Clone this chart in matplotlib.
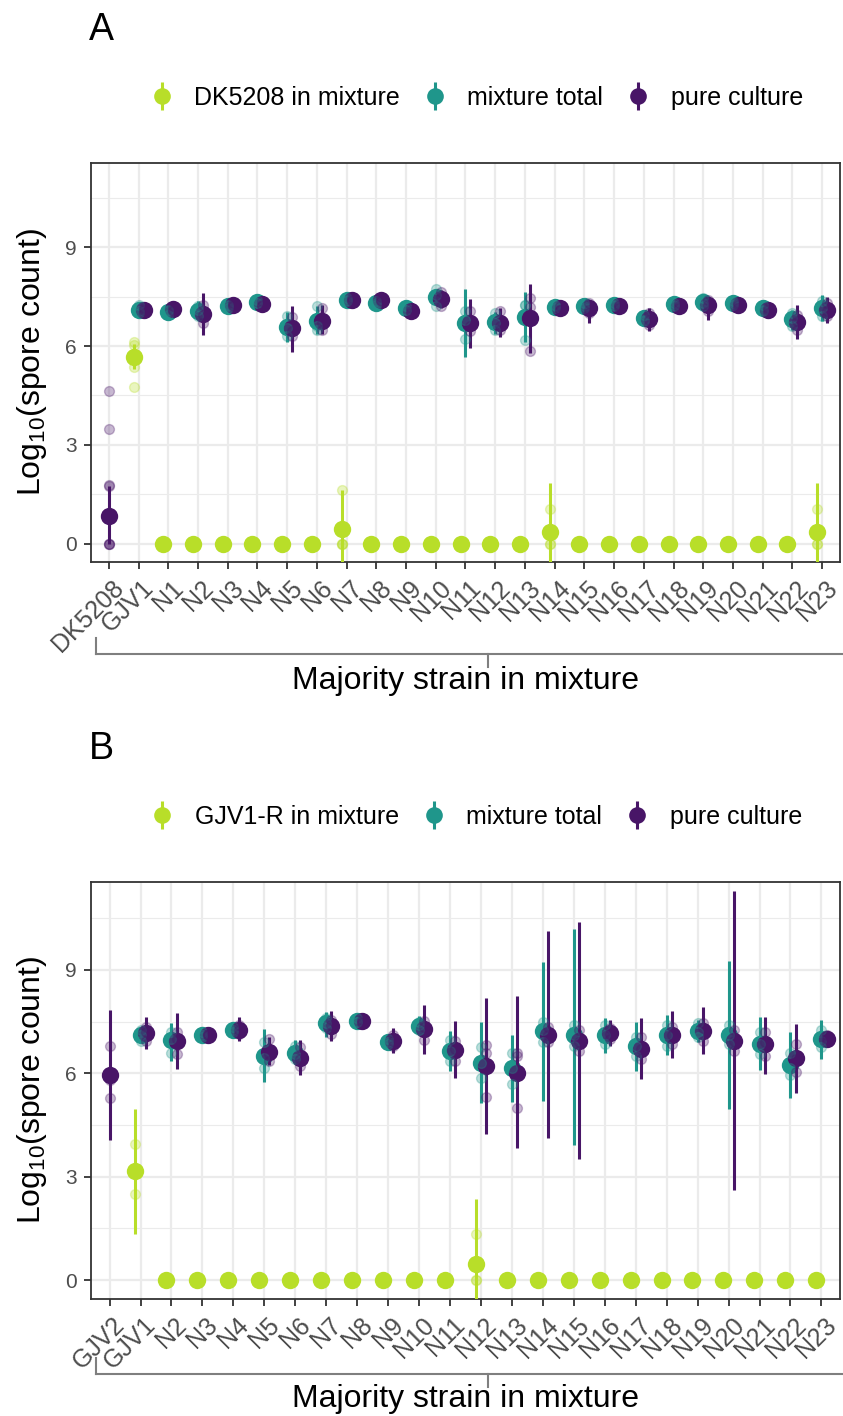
import numpy as np
import matplotlib
matplotlib.use('Agg')
import matplotlib.pyplot as plt
from matplotlib.lines import Line2D
from matplotlib.transforms import ScaledTranslation

nan = np.nan

# ---------------- panel A ----------------
strains_a = ['DK5208', 'GJV1', 'N1', 'N2', 'N3', 'N4', 'N5', 'N6', 'N7', 'N8', 'N9', 'N10', 'N11',
             'N12', 'N13', 'N14', 'N15', 'N16', 'N17', 'N18', 'N19', 'N20', 'N21', 'N22', 'N23']

focal_mean_a = [nan, 5.68, 0, 0, 0, 0, 0, 0, 0.44, 0, 0, 0, 0, 0, 0, 0.37, 0, 0, 0, 0, 0, 0, 0, 0, 0.37]
focal_lo_a = [nan, 5.30, 0, 0, 0, 0, 0, 0, -0.80, 0, 0, 0, 0, 0, 0, -1.10, 0, 0, 0, 0, 0, 0, 0, 0, -1.10]
focal_hi_a = [nan, 6.05, 0, 0, 0, 0, 0, 0, 1.64, 0, 0, 0, 0, 0, 0, 1.86, 0, 0, 0, 0, 0, 0, 0, 0, 1.86]

mix_mean_a = [nan, 7.09, 7.04, 7.06, 7.21, 7.34, 6.59, 6.77, 7.39, 7.31, 7.14, 7.49, 6.69,
              6.74, 6.89, 7.19, 7.21, 7.25, 6.84, 7.26, 7.32, 7.31, 7.14, 6.81, 7.14]
mix_lo_a = [nan, 6.95, 6.90, 6.80, 7.10, 7.20, 6.13, 6.35, 7.30, 7.20, 7.00, 7.30, 5.66,
            6.35, 6.13, 7.05, 7.05, 7.10, 6.70, 7.15, 7.15, 7.20, 7.00, 6.50, 6.75]
mix_hi_a = [nan, 7.25, 7.15, 7.35, 7.30, 7.45, 7.04, 7.22, 7.50, 7.40, 7.25, 7.65, 7.72,
            7.04, 7.65, 7.30, 7.35, 7.35, 7.00, 7.35, 7.50, 7.40, 7.30, 7.10, 7.55]

pure_mean_a = [0.85, 7.09, 7.11, 6.96, 7.25, 7.26, 6.54, 6.77, 7.39, 7.41, 7.07, 7.44, 6.69,
               6.71, 6.84, 7.14, 7.14, 7.21, 6.81, 7.22, 7.23, 7.23, 7.09, 6.74, 7.09]
pure_lo_a = [0.00, 6.95, 6.95, 6.33, 7.15, 7.15, 5.83, 6.35, 7.30, 7.30, 6.95, 7.14, 5.93,
             6.28, 5.80, 7.00, 6.71, 7.10, 6.45, 7.10, 6.80, 7.10, 6.90, 6.20, 6.70]
pure_hi_a = [1.74, 7.20, 7.25, 7.60, 7.35, 7.40, 7.21, 7.23, 7.50, 7.50, 7.20, 7.69, 7.44,
             7.14, 7.87, 7.25, 7.40, 7.30, 7.15, 7.35, 7.50, 7.35, 7.25, 7.24, 7.50]

# replicate values (small transparent dots)
focal_reps_a = [[], [6.13, 6.03, 5.37, 4.77], [0, 0, 0], [0, 0, 0], [0, 0, 0], [0, 0, 0], [0, 0, 0],
                [0, 0, 0], [1.64, 0, 0, 0], [0, 0, 0], [0, 0, 0], [0, 0, 0], [0, 0, 0], [0, 0, 0],
                [0, 0, 0], [1.05, 0, 0], [0, 0, 0], [0, 0, 0], [0, 0, 0], [0, 0, 0], [0, 0, 0],
                [0, 0, 0], [0, 0, 0], [0, 0, 0], [1.05, 0, 0]]
mix_reps_a = [[], [7.25, 7.0, 7.05], [7.1, 6.95, 7.05], [7.2, 6.9, 7.1], [7.25, 7.15, 7.2],
              [7.4, 7.3, 7.3], [6.9, 6.3, 6.55], [7.22, 6.5, 6.6], [7.45, 7.35, 7.4],
              [7.35, 7.25, 7.3], [7.2, 7.1, 7.1], [7.72, 7.2, 7.55], [7.05, 6.2, 6.8],
              [7.0, 6.5, 6.7], [7.24, 6.18, 7.25], [7.25, 7.15, 7.2], [7.3, 7.15, 7.2],
              [7.3, 7.2, 7.25], [6.95, 6.75, 6.8], [7.3, 7.2, 7.25], [7.45, 7.2, 7.3],
              [7.35, 7.25, 7.3], [7.25, 7.05, 7.1], [7.0, 6.6, 6.85], [7.35, 6.9, 7.15]]
pure_reps_a = [[4.65, 3.49, 1.79, 1.74, 0.0, 0.0, 0.0], [7.15, 7.0, 7.1], [7.2, 7.05, 7.1],
               [7.25, 6.69, 6.95], [7.3, 7.2, 7.25], [7.35, 7.2, 7.25], [6.89, 6.3, 6.45],
               [7.14, 6.48, 6.7], [7.45, 7.35, 7.4], [7.5, 7.35, 7.4], [7.15, 7.0, 7.05],
               [7.64, 7.2, 7.5], [7.05, 6.45, 6.6], [7.05, 6.5, 6.6], [7.19, 5.85, 7.45],
               [7.2, 7.1, 7.1], [7.3, 7.0, 7.1], [7.25, 7.15, 7.2], [7.0, 6.65, 6.8],
               [7.3, 7.15, 7.2], [7.4, 7.05, 7.25], [7.3, 7.15, 7.25], [7.15, 7.0, 7.1],
               [6.95, 6.5, 6.75], [7.3, 6.9, 7.05]]

# ---------------- panel B ----------------
strains_b = ['GJV2', 'GJV1', 'N2', 'N3', 'N4', 'N5', 'N6', 'N7', 'N8', 'N9', 'N10', 'N11',
             'N12', 'N13', 'N14', 'N15', 'N16', 'N17', 'N18', 'N19', 'N20', 'N21', 'N22', 'N23']

focal_mean_b = [nan, 3.15, 0, 0, 0, 0, 0, 0, 0, 0, 0, 0, 0.46, 0, 0, 0, 0, 0, 0, 0, 0, 0, 0, 0]
focal_lo_b = [nan, 1.35, 0, 0, 0, 0, 0, 0, 0, 0, 0, 0, -1.40, 0, 0, 0, 0, 0, 0, 0, 0, 0, 0, 0]
focal_hi_b = [nan, 4.97, 0, 0, 0, 0, 0, 0, 0, 0, 0, 0, 2.34, 0, 0, 0, 0, 0, 0, 0, 0, 0, 0, 0]

mix_mean_b = [nan, 7.10, 6.97, 7.12, 7.27, 6.50, 6.59, 7.45, 7.53, 6.92, 7.38, 6.66,
              6.30, 6.15, 7.22, 7.10, 7.12, 6.79, 7.11, 7.24, 7.11, 6.86, 6.23, 6.98]
mix_lo_b = [nan, 6.95, 6.37, 7.00, 7.15, 5.75, 6.28, 7.05, 7.40, 6.75, 7.10, 6.07,
            5.14, 5.17, 5.20, 3.92, 6.59, 6.08, 6.52, 6.90, 4.95, 6.09, 5.27, 6.42]
mix_hi_b = [nan, 7.25, 7.45, 7.25, 7.40, 7.29, 6.97, 7.77, 7.65, 7.10, 7.65, 7.24,
            7.48, 7.12, 9.23, 10.19, 7.60, 7.48, 7.69, 7.55, 9.26, 7.62, 7.21, 7.55]

pure_mean_b = [5.94, 7.16, 6.93, 7.12, 7.27, 6.63, 6.45, 7.36, 7.51, 6.95, 7.29, 6.68,
               6.20, 6.02, 7.12, 6.93, 7.16, 6.71, 7.12, 7.24, 6.95, 6.86, 6.44, 7.00]
pure_lo_b = [4.07, 6.71, 6.13, 7.05, 6.93, 6.23, 5.94, 6.95, 7.40, 6.60, 6.57, 5.86,
             4.23, 3.83, 4.12, 3.51, 6.79, 5.82, 6.45, 6.57, 2.62, 5.99, 5.44, 6.80]
pure_hi_b = [7.84, 7.62, 7.74, 7.20, 7.62, 7.05, 6.97, 7.80, 7.60, 7.30, 7.98, 7.53,
             8.17, 8.23, 10.14, 10.38, 7.55, 7.60, 7.80, 7.93, 11.30, 7.62, 7.43, 7.20]

focal_reps_b = [[], [3.95, 3.1, 2.51], [0, 0, 0], [0, 0, 0], [0, 0, 0], [0, 0, 0], [0, 0, 0],
                [0, 0, 0], [0, 0, 0], [0, 0, 0], [0, 0, 0], [0, 0, 0], [1.35, 0, 0], [0, 0, 0],
                [0, 0, 0], [0, 0, 0], [0, 0, 0], [0, 0, 0], [0, 0, 0], [0, 0, 0], [0, 0, 0],
                [0, 0, 0], [0, 0, 0], [0, 0, 0]]
mix_reps_b = [[], [7.25, 6.95, 7.1], [7.2, 6.6, 7.0], [7.2, 7.05, 7.1], [7.35, 7.2, 7.25],
              [6.9, 6.16, 6.45], [6.8, 6.4, 6.55], [7.6, 7.3, 7.45], [7.6, 7.5, 7.5],
              [7.0, 6.85, 6.9], [7.5, 7.25, 7.4], [6.97, 6.35, 6.65], [6.76, 5.85, 6.3],
              [6.6, 5.68, 6.15], [7.5, 6.9, 7.25], [7.4, 6.8, 7.1], [7.4, 6.85, 7.1],
              [7.05, 6.5, 6.8], [7.4, 6.8, 7.1], [7.45, 7.05, 7.2], [7.4, 6.85, 7.1],
              [7.2, 6.55, 6.85], [6.6, 5.95, 6.15], [7.25, 6.75, 6.95]]
pure_reps_b = [[6.79, 5.8, 5.29], [7.35, 6.95, 7.2], [7.2, 6.57, 7.0], [7.15, 7.1, 7.1],
               [7.4, 7.15, 7.25], [7.0, 6.35, 6.55], [6.75, 6.2, 6.4], [7.55, 7.15, 7.4],
               [7.55, 7.45, 7.5], [7.1, 6.8, 6.95], [7.53, 6.97, 7.35], [6.95, 6.37, 6.7],
               [6.82, 6.6, 5.3], [6.58, 5.0, 6.5], [7.35, 6.9, 7.1], [7.25, 6.65, 6.9],
               [7.3, 7.0, 7.15], [7.05, 6.4, 6.7], [7.35, 6.85, 7.1], [7.45, 6.95, 7.3],
               [7.25, 6.65, 6.95], [7.2, 6.5, 6.9], [6.85, 6.05, 6.4], [7.1, 6.9, 7.0]]

colours = ['#B8DE29', '#1F968B', '#481567']

plt.rcParams['font.family'] = ['Liberation Sans', 'DejaVu Sans']
plt.rcParams['mathtext.fontset'] = 'custom'
plt.rcParams['mathtext.rm'] = 'Liberation Sans'
plt.rcParams['mathtext.it'] = 'Liberation Sans:italic'

W, H = 843, 1416


def fx(px):
    return px / W


def fy(py):
    return 1 - py / H


def draw_panel(ax, strains, means, lows, highs, reps):
    n = len(strains)
    x = np.arange(n)
    means = np.array(means, dtype=float)
    present = ~np.isnan(means)
    n_here = present.sum(axis=0)
    rank = np.cumsum(present, axis=0) - 1
    offs = (rank - (n_here - 1) / 2) * 0.5 / n_here  # dodge width 0.5

    for s in range(3):
        m = present[s]
        xs = x + offs[s]
        lo = np.array(lows[s], dtype=float)
        hi = np.array(highs[s], dtype=float)
        ax.vlines(xs[m], lo[m], hi[m], color=colours[s], lw=2.2, zorder=3 + s)
        ax.plot(xs[m], means[s][m], 'o', ms=12.5, color=colours[s], mew=0, zorder=3 + s)
        rx, ry = [], []
        for j in range(n):
            for v in reps[s][j]:
                rx.append(xs[j])
                ry.append(v)
        ax.scatter(rx, ry, s=50, color=colours[s], edgecolors=colours[s], linewidths=1.0,
                   alpha=0.3, zorder=7)

    ax.set_xlim(-0.6, n - 0.4)
    ax.set_ylim(-0.55, 11.55)
    ax.set_yticks([0, 3, 6, 9])
    ax.set_yticks([1.5, 4.5, 7.5, 10.5], minor=True)
    ax.set_xticks(x)
    ax.set_xticklabels(strains, rotation=45, ha='right', va='top', rotation_mode='anchor')
    ax.grid(which='major', color='#EBEBEB', lw=1.6)
    ax.grid(which='minor', axis='y', color='#EBEBEB', lw=0.8)
    ax.set_axisbelow(True)
    for sp in ax.spines.values():
        sp.set_color('#333333')
        sp.set_linewidth(1.3)
    ax.tick_params(which='major', length=5, width=1.3, color='#333333',
                   labelsize=15, labelcolor='#4D4D4D')
    ax.tick_params(axis='x', labelsize=18, pad=5)
    ax.tick_params(axis='y', pad=5.5)
    ax.tick_params(which='minor', length=0)
    shift = ScaledTranslation(3 / 100, 0, ax.figure.dpi_scale_trans)
    for lab in ax.get_xticklabels():
        lab.set_transform(lab.get_transform() + shift)


def add_legend(fig, first_label, y_px):
    handles = []
    for c in colours:
        bar = Line2D([], [], marker='|', ms=20, mew=2.2, color=c, ls='none')
        dot = Line2D([], [], marker='o', ms=12, mew=0, color=c, ls='none')
        handles.append((bar, dot))
    fig.legend(handles, [first_label, 'mixture total', 'pure culture'],
               loc='center', bbox_to_anchor=(fx(476), fy(y_px)), ncol=3, frameon=False,
               fontsize=18, handlelength=1.0, handletextpad=0.8, columnspacing=0.9)


def add_bracket(fig, y_line, y_top, y_tick):
    kw = dict(transform=fig.transFigure, color='#7F7F7F', lw=1.5)
    fig.add_artist(Line2D([fx(96), fx(96)], [fy(y_top), fy(y_line)], **kw))
    fig.add_artist(Line2D([fx(96), fx(880)], [fy(y_line), fy(y_line)], **kw))
    fig.add_artist(Line2D([fx(488), fx(488)], [fy(y_line), fy(y_tick)], **kw))


fig = plt.figure(figsize=(W / 100, H / 100), dpi=100)

ax_a = fig.add_axes([fx(91), fy(562), (840 - 91) / W, (562 - 163) / H])
draw_panel(ax_a, strains_a,
           [focal_mean_a, mix_mean_a, pure_mean_a],
           [focal_lo_a, mix_lo_a, pure_lo_a],
           [focal_hi_a, mix_hi_a, pure_hi_a],
           [focal_reps_a, mix_reps_a, pure_reps_a])

ax_b = fig.add_axes([fx(91), fy(1299), (840 - 91) / W, (1299 - 882) / H])
draw_panel(ax_b, strains_b,
           [focal_mean_b, mix_mean_b, pure_mean_b],
           [focal_lo_b, mix_lo_b, pure_lo_b],
           [focal_hi_b, mix_hi_b, pure_hi_b],
           [focal_reps_b, mix_reps_b, pure_reps_b])

ylab = r'Log$_{\mathregular{10}}$(spore count)'
fig.text(fx(32), fy(362), ylab, rotation=90, ha='center', va='center', fontsize=23)
fig.text(fx(32), fy(1090), ylab, rotation=90, ha='center', va='center', fontsize=23)

fig.text(fx(466), fy(689), 'Majority strain in mixture', ha='center', va='baseline', fontsize=23)
fig.text(fx(466), fy(1407), 'Majority strain in mixture', ha='center', va='baseline', fontsize=23)

fig.text(fx(89), fy(40), 'A', ha='left', va='baseline', fontsize=27)
fig.text(fx(89), fy(759), 'B', ha='left', va='baseline', fontsize=27)

add_legend(fig, 'DK5208 in mixture', 98)
add_legend(fig, 'GJV1-R in mixture', 817)

add_bracket(fig, 654, 638, 667)
add_bracket(fig, 1374, 1358, 1387)

fig.savefig('out.png', dpi=100)
